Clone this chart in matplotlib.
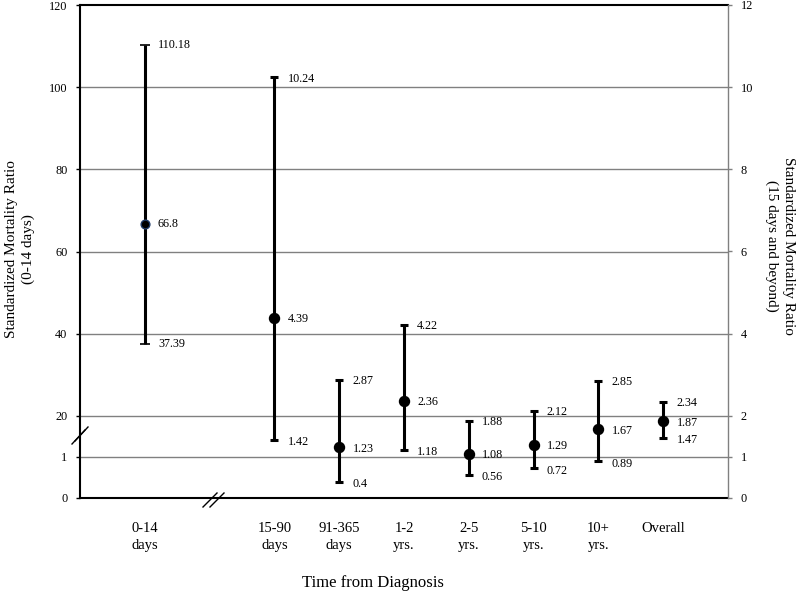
import numpy as np
import matplotlib
matplotlib.use("Agg")
import matplotlib.pyplot as plt
from matplotlib.lines import Line2D

# categories (x slot positions 0 and 2..8, slot 1 holds the axis break)
categories = ["0-14\ndays", "15-90\ndays", "91-365\ndays", "1-2\nyrs.", "2-5\nyrs.",
              "5-10\nyrs.", "10+\nyrs.", "Overall"]
slots = [0, 2, 3, 4, 5, 6, 7, 8]

# SMR with 95% CI; first one is read on the left axis, the rest on the right axis
smr = [66.8, 4.39, 1.23, 2.36, 1.08, 1.29, 1.67, 1.87]
ci_low = [37.39, 1.42, 0.4, 1.18, 0.56, 0.72, 0.89, 1.47]
ci_high = [110.18, 10.24, 2.87, 4.22, 1.88, 2.12, 2.85, 2.34]

left_ticks = [0, 1, 20, 40, 60, 80, 100, 120]
right_ticks = [0, 1, 2, 4, 6, 8, 10, 12]

# broken (piecewise linear) scales
lv, lt = [0, 1, 20, 120], [0, 0.5, 1, 6]
rv, rt = [0, 1, 2, 12], [0, 0.5, 1, 6]

def make_scale(vals, trans):
    fwd = lambda v: np.interp(v, vals, trans)
    inv = lambda t: np.interp(t, trans, vals)
    return fwd, inv

serif = "Liberation Serif"
plt.rcParams['font.family'] = serif

fig = plt.figure(figsize=(8, 5.92), dpi=100)
ax = fig.add_axes([0.1, 94 / 592, 0.81, 493 / 592])
ax2 = ax.twinx()

ax.set_yscale("function", functions=make_scale(lv, lt))
ax2.set_yscale("function", functions=make_scale(rv, rt))
ax.set_ylim(0, 120)
ax2.set_ylim(0, 12)
ax.set_xlim(-1, 9)

# grid lines
for g in left_ticks[1:-1]:
    ax.axhline(g, color="#808080", lw=1.0, zorder=1)

# 0-14 days on left axis
c0 = "#1f3a68"
eb = ax.errorbar(slots[0], smr[0], yerr=[[smr[0] - ci_low[0]], [ci_high[0] - smr[0]]],
                 fmt="o", color="black", ecolor="black", elinewidth=2.2, capsize=3.6,
                 capthick=1.2, ms=6.3, mec=c0, mfc="black", zorder=3)
for cl in eb[1]:
    cl.set_color(c0)

# everything else on right axis
x2 = slots[1:]
m2 = np.array(smr[1:])
lo2 = np.array(ci_low[1:])
hi2 = np.array(ci_high[1:])
ax2.errorbar(x2, m2, yerr=[m2 - lo2, hi2 - m2], fmt="o", color="black",
             elinewidth=2.2, capsize=3.2, capthick=2.2, ms=7.2, zorder=3)

def lab(a, x, v, dy=0):
    a.annotate("{:g}".format(v), xy=(x, v), xytext=(9.5, dy), textcoords="offset points",
               va="center", ha="left", fontsize=8.7, family=serif)

lab(ax, slots[0], smr[0]); lab(ax, slots[0], ci_low[0]); lab(ax, slots[0], ci_high[0])
for x, m, lo, hi in zip(x2, m2, lo2, hi2):
    lab(ax2, x, m, -1)
    lab(ax2, x, lo, -1.5)
    lab(ax2, x, hi, -1)

# ticks & spines
ax.set_yticks(left_ticks)
ax.set_yticklabels([str(t) for t in left_ticks])
ax2.set_yticks(right_ticks)
ax2.set_yticklabels([str(t) for t in right_ticks])
ax.yaxis.set_minor_locator(matplotlib.ticker.NullLocator())
ax2.yaxis.set_minor_locator(matplotlib.ticker.NullLocator())
ax.tick_params(axis="y", length=3, width=1, color="black", labelsize=8.8, pad=6)
ax2.tick_params(axis="y", length=3, width=1, color="#808080", labelsize=8.8, pad=6)
ax.set_xticks(slots)
ax.set_xticklabels(categories, fontsize=10.5, linespacing=1.4)
ax.tick_params(axis="x", length=0, pad=17.5)

for s in ["top", "left", "bottom"]:
    ax.spines[s].set_linewidth(1.5)
    ax.spines[s].set_color("black")
    ax2.spines[s].set_visible(False)
ax.spines["right"].set_visible(False)
ax2.spines["right"].set_color("#808080")
ax2.spines["right"].set_linewidth(1.0)

# axis labels
fig.text(20 / 800, 1 - 249 / 592, "Standardized Mortality Ratio\n(0-14 days)", rotation=90,
         ha="center", va="center", fontsize=11, linespacing=1.35)
fig.text(780 / 800, 1 - 246 / 592, "Standardized Mortality Ratio\n(15 days and beyond)",
         rotation=270, ha="center", va="center", fontsize=11, linespacing=1.35)
fig.text(373 / 800, 1 - 583 / 592, "Time from Diagnosis", ha="center", va="center", fontsize=12)

# break marks
def brk(x0, y0, x1, y1, dx, dy):
    for k in (0, 1):
        fig.add_artist(Line2D([(x0 + k * dx) / 800, (x1 + k * dx) / 800],
                              [1 - (y0 + k * dy) / 592, 1 - (y1 + k * dy) / 592],
                              color="black", lw=1.0))

brk(72, 444, 85, 430, 3, -3)
brk(203, 507, 217, 493, 7, 0)

fig.savefig("out.png", dpi=100)
